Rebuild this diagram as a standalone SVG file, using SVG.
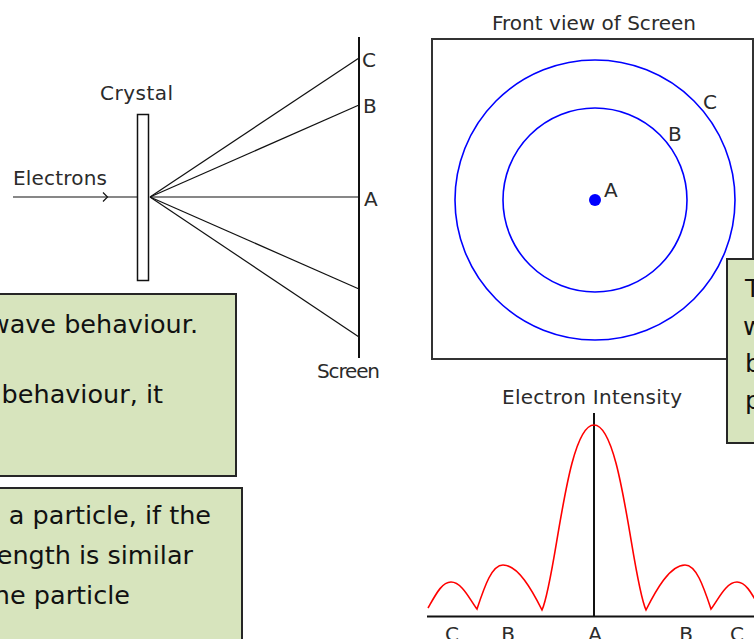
<svg xmlns="http://www.w3.org/2000/svg" width="754" height="639" viewBox="0 0 754 639">
<style>
.lbl{font-family:"DejaVu Sans","Verdana",sans-serif;font-size:20px;fill:#2b2b2b}
.box{fill:#d7e4bd;stroke:#262626;stroke-width:2}
.bt{font-family:"DejaVu Sans","Verdana",sans-serif;font-size:25.5px;fill:#111}
.ray{stroke:#111;stroke-width:1.2;fill:none}
.ring{fill:none;stroke:#0000ff;stroke-width:1.6}
</style>
<rect width="754" height="639" fill="#ffffff"/>

<g id="connectors">
  <line x1="13" y1="197" x2="137" y2="197" class="ray"/>
  <polyline points="103,192.5 107.5,197 103,201.5" class="ray"/>
  <line x1="150" y1="197" x2="359" y2="58" class="ray"/>
  <line x1="150" y1="197" x2="359" y2="105" class="ray"/>
  <line x1="150" y1="197" x2="359" y2="197" class="ray"/>
  <line x1="150" y1="197" x2="359" y2="289" class="ray"/>
  <line x1="150" y1="197" x2="359" y2="337" class="ray"/>
</g>

<g id="crystal">
  <rect x="137.5" y="114.5" width="11" height="166" fill="#fff" stroke="#111" stroke-width="1.5"/>
  <text class="lbl" x="100" y="100" textLength="73" lengthAdjust="spacing">Crystal</text>
</g>
<g id="electrons">
  <text class="lbl" x="13" y="185" textLength="94" lengthAdjust="spacing">Electrons</text>
</g>
<g id="screen">
  <line x1="359" y1="37" x2="359" y2="358" stroke="#111" stroke-width="2"/>
  <text class="lbl" x="362" y="67">C</text>
  <text class="lbl" x="363" y="113">B</text>
  <text class="lbl" x="364" y="206">A</text>
  <text class="lbl" x="317" y="378" textLength="63" lengthAdjust="spacing">Screen</text>
</g>

<g id="front-view">
  <text class="lbl" x="492" y="30" textLength="204" lengthAdjust="spacing">Front view of Screen</text>
  <rect x="432" y="39" width="321" height="320" fill="#fff" stroke="#333" stroke-width="2"/>
  <circle class="ring" cx="595" cy="200" r="140"/>
  <circle class="ring" cx="595" cy="200" r="92"/>
  <circle cx="595" cy="200" r="6" fill="#0000ff"/>
  <text class="lbl" x="703" y="109" font-size="19">C</text>
  <text class="lbl" x="668" y="141" font-size="19">B</text>
  <text class="lbl" x="604" y="197" font-size="19">A</text>
</g>

<g id="intensity">
  <text class="lbl" x="502" y="404" textLength="180" lengthAdjust="spacing">Electron Intensity</text>
  <line x1="594" y1="413" x2="594" y2="617" stroke="#111" stroke-width="2"/>
  <line x1="427" y1="616.5" x2="754" y2="616.5" stroke="#111" stroke-width="2"/>
  <path d="M428,608 C436,594 442,582 451,582 C462,582 470,600 477,609 C485,585 492,565 503,565 C518,565 532,590 542,610 C556,580 566,425 594,425 C622,425 632,580 646,610 C656,590 670,565 685,565 C696,565 703,585 711,609 C718,600 726,582 737,582 C746,582 752,594 760,608" fill="none" stroke="#ff0000" stroke-width="1.6"/>
  <text class="lbl" x="452" y="641" text-anchor="middle">C</text>
  <text class="lbl" x="508" y="641" text-anchor="middle">B</text>
  <text class="lbl" x="595" y="641" text-anchor="middle">A</text>
  <text class="lbl" x="686" y="641" text-anchor="middle">B</text>
  <text class="lbl" x="737" y="641" text-anchor="middle">C</text>
</g>

<g id="note-1">
  <rect class="box" x="-10" y="294" width="246" height="182"/>
  <text class="bt" x="198" y="333" text-anchor="end">wave behaviour.</text>
  <text class="bt" x="163" y="403" text-anchor="end">behaviour, it</text>
</g>
<g id="note-2">
  <rect class="box" x="-10" y="488" width="252" height="170"/>
  <text class="bt" x="211" y="524" text-anchor="end">a particle, if the</text>
  <text class="bt" x="193" y="564" text-anchor="end">ength is similar</text>
  <text class="bt" x="130" y="604" text-anchor="end">ne particle</text>
</g>
<g id="note-3">
  <rect class="box" x="727" y="259" width="40" height="184"/>
  <text class="bt" x="745" y="297">T</text>
  <text class="bt" x="743" y="335">w</text>
  <text class="bt" x="745" y="372">b</text>
  <text class="bt" x="745" y="409">p</text>
</g>
</svg>
